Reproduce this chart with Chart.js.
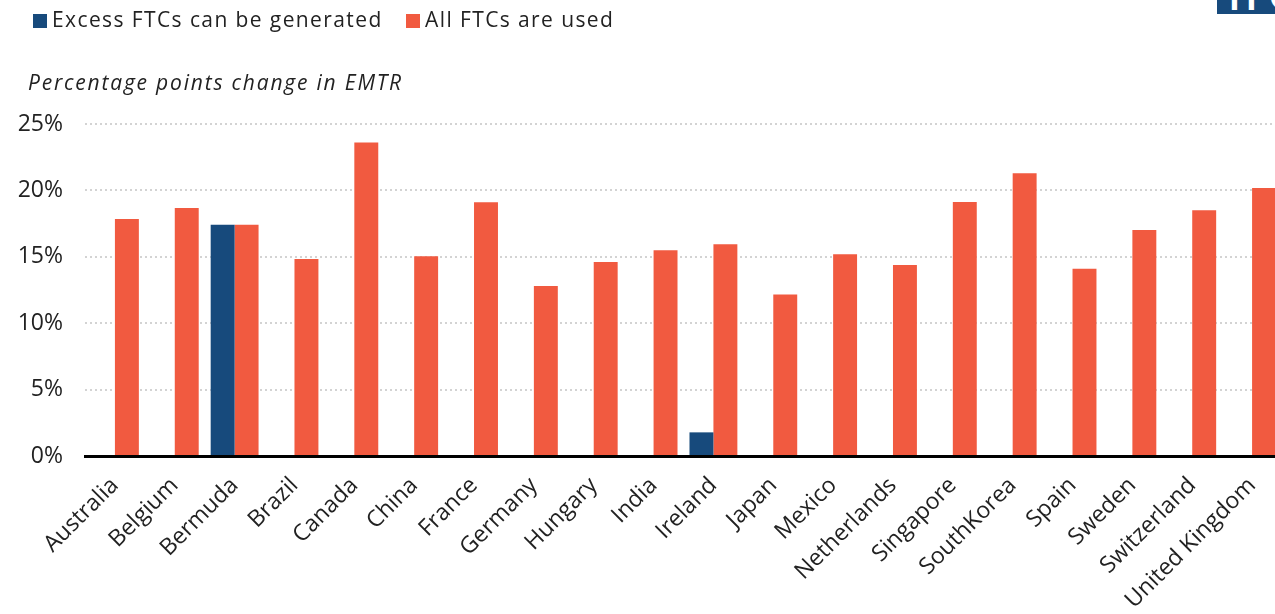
<!DOCTYPE html>
<html>
<head>
<meta charset="utf-8">
<script src="https://cdn.jsdelivr.net/npm/chart.js@4"></script>
<style>
  html, body { margin:0; padding:0; background:#fff; overflow:hidden; width:1275px; height:614px; }
  body { font-family: "Open Sans", "Noto Sans", sans-serif; color:#222; position:relative; }
  #wrap { position:absolute; left:0; top:0; width:1282px; height:614px; }
  .leg { position:absolute; top:5px; font-size:21px; line-height:28px; white-space:nowrap; letter-spacing:1.4px; }
  .sw { display:inline-block; width:14px; height:14px; margin-right:5px; vertical-align:-1px; }
  #sub { position:absolute; left:28px; top:68px; font-size:21px; font-style:italic; white-space:nowrap; letter-spacing:1.8px; }
  #logo { position:absolute; left:1217px; top:-30px; width:70px; height:44px; background:#174A7C; color:#fff;
          font: bold 38px Lato, sans-serif; line-height:50px; padding-left:6px; overflow:hidden; }
</style>
</head>
<body>
<div id="wrap"><canvas id="c" width="1282" height="614"></canvas></div>
<div class="leg" style="left:33px"><span class="sw" style="background:#174A7C"></span>Excess FTCs can be generated</div>
<div class="leg" style="left:406px"><span class="sw" style="background:#F15A40"></span>All FTCs are used</div>
<div id="sub">Percentage points change in EMTR</div>
<div id="logo">TPC</div>
<script>
const categories = ["Australia","Belgium","Bermuda","Brazil","Canada","China","France","Germany","Hungary","India",
  "Ireland","Japan","Mexico","Netherlands","Singapore","SouthKorea","Spain","Sweden","Switzerland","United Kingdom"];
const excessFTCs = [null,null,17.42,null,null,null,null,null,null,null,
  1.78,null,null,null,null,null,null,null,null,null];
const allFTCsUsed = [17.85,18.67,17.42,14.83,23.6,15.04,19.1,12.8,14.6,15.5,
  15.95,12.17,15.2,14.38,19.13,21.3,14.1,17.02,18.5,20.18];
const yTicks = [0,5,10,15,20,25];

const FONT = '"Open Sans", "Noto Sans", sans-serif';
new Chart(document.getElementById('c'), {
  type: 'bar',
  data: {
    labels: categories,
    datasets: [
      { label: 'Excess FTCs can be generated', data: excessFTCs, backgroundColor: '#174A7C',
        barPercentage: 1.0, categoryPercentage: 0.8 },
      { label: 'All FTCs are used', data: allFTCsUsed, backgroundColor: '#F15A40',
        barPercentage: 1.0, categoryPercentage: 0.8 }
    ]
  },
  options: {
    responsive: false,
    animation: false,
    layout: { padding: { top: 124, left: 0, right: 0, bottom: 0 } },
    plugins: { legend: { display: false }, tooltip: { enabled: false }, title: { display: false } },
    scales: {
      x: {
        grid: { display: false },
        border: { display: true, color: '#000', width: 3 },
        ticks: { color: '#222', font: { family: FONT, size: 23 }, maxRotation: 45, minRotation: 45, autoSkip: false, padding: 8 },
        afterFit: (s) => { s.height = 158; }
      },
      y: {
        min: 0, max: 25,
        afterBuildTicks: (s) => { s.ticks = yTicks.map(v => ({ value: v })); },
        grid: { drawTicks: false, lineWidth: 2, borderDash: [2, 3],
                color: (ctx) => ctx.tick && ctx.tick.value === 0 ? 'rgba(0,0,0,0)' : '#d3d3d3' },
        border: { display: false, dash: [2, 3] },
        ticks: { color: '#222', font: { family: FONT, size: 23 }, padding: 22, callback: (v) => v + '%' },
        afterFit: (s) => { s.width = 85; }
      }
    }
  }
});
</script>
</body>
</html>
